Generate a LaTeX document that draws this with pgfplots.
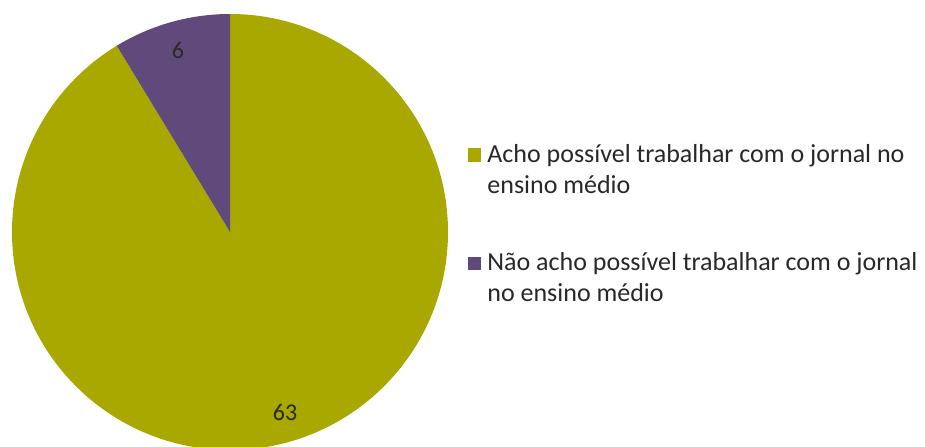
\documentclass[border=0pt]{standalone}
\usepackage{pgfplots}
\pgfplotsset{compat=1.18}
\usepackage{pgfplotstable}
\usepackage{fontspec}
\setmainfont{Carlito}
\definecolor{olivepie}{RGB}{168,168,0}
\definecolor{purplepie}{RGB}{96,74,123}
\definecolor{txt}{RGB}{40,40,40}
\pgfplotstableread{
label value
Acho 63
Nao 6
}\piedata
\begin{document}
\begin{tikzpicture}
\pgfplotstablegetelem{0}{value}\of\piedata \let\va\pgfplotsretval
\pgfplotstablegetelem{1}{value}\of\piedata \let\vb\pgfplotsretval
\pgfmathsetmacro{\tot}{\va+\vb}
\pgfmathsetmacro{\angA}{360*(\va/\tot)}
\pgfmathsetmacro{\endA}{90-\angA}
\begin{axis}[
  x=0.5pt, y=0.5pt, scale only axis,
  xmin=0, xmax=925, ymin=0, ymax=446,
  hide axis, clip=true,
]
\begin{scope}
\clip (axis cs:0,0) rectangle (axis cs:925,446);
% slice 1 (63): clockwise from 12 o'clock
\fill[olivepie] (axis cs:230,214) -- ++(90:109pt) arc[start angle=90, end angle=\endA, radius=109pt] -- cycle;
% slice 2 (6)
\fill[purplepie] (axis cs:230,214) -- ++(\endA:109pt) arc[start angle=\endA, end angle=-270, radius=109pt] -- cycle;
\end{scope}
\node[font=\fontsize{12}{14}\selectfont, text=txt] at (axis cs:178,396) {\pgfmathprintnumber[assume math mode=true]{\vb}};
\node[font=\fontsize{12}{14}\selectfont, text=txt] at (axis cs:285,34) {\pgfmathprintnumber[assume math mode=true]{\va}};
% legend
\fill[olivepie] (axis cs:468,298) rectangle (axis cs:481,284);
\fill[purplepie] (axis cs:468,189) rectangle (axis cs:481,176);
\begin{scope}[every node/.style={anchor=base west, inner sep=0pt, font=\fontsize{13}{15.5}\selectfont, text=txt}]
\node at (axis cs:487,284) {Acho possível trabalhar com o jornal no};
\node at (axis cs:487,253) {ensino médio};
\node at (axis cs:487,176) {Não acho possível trabalhar com o jornal};
\node at (axis cs:487,145) {no ensino médio};
\end{scope}
\end{axis}
\pgfresetboundingbox
\path (current axis.south west) rectangle (current axis.north east);
\end{tikzpicture}
\end{document}
